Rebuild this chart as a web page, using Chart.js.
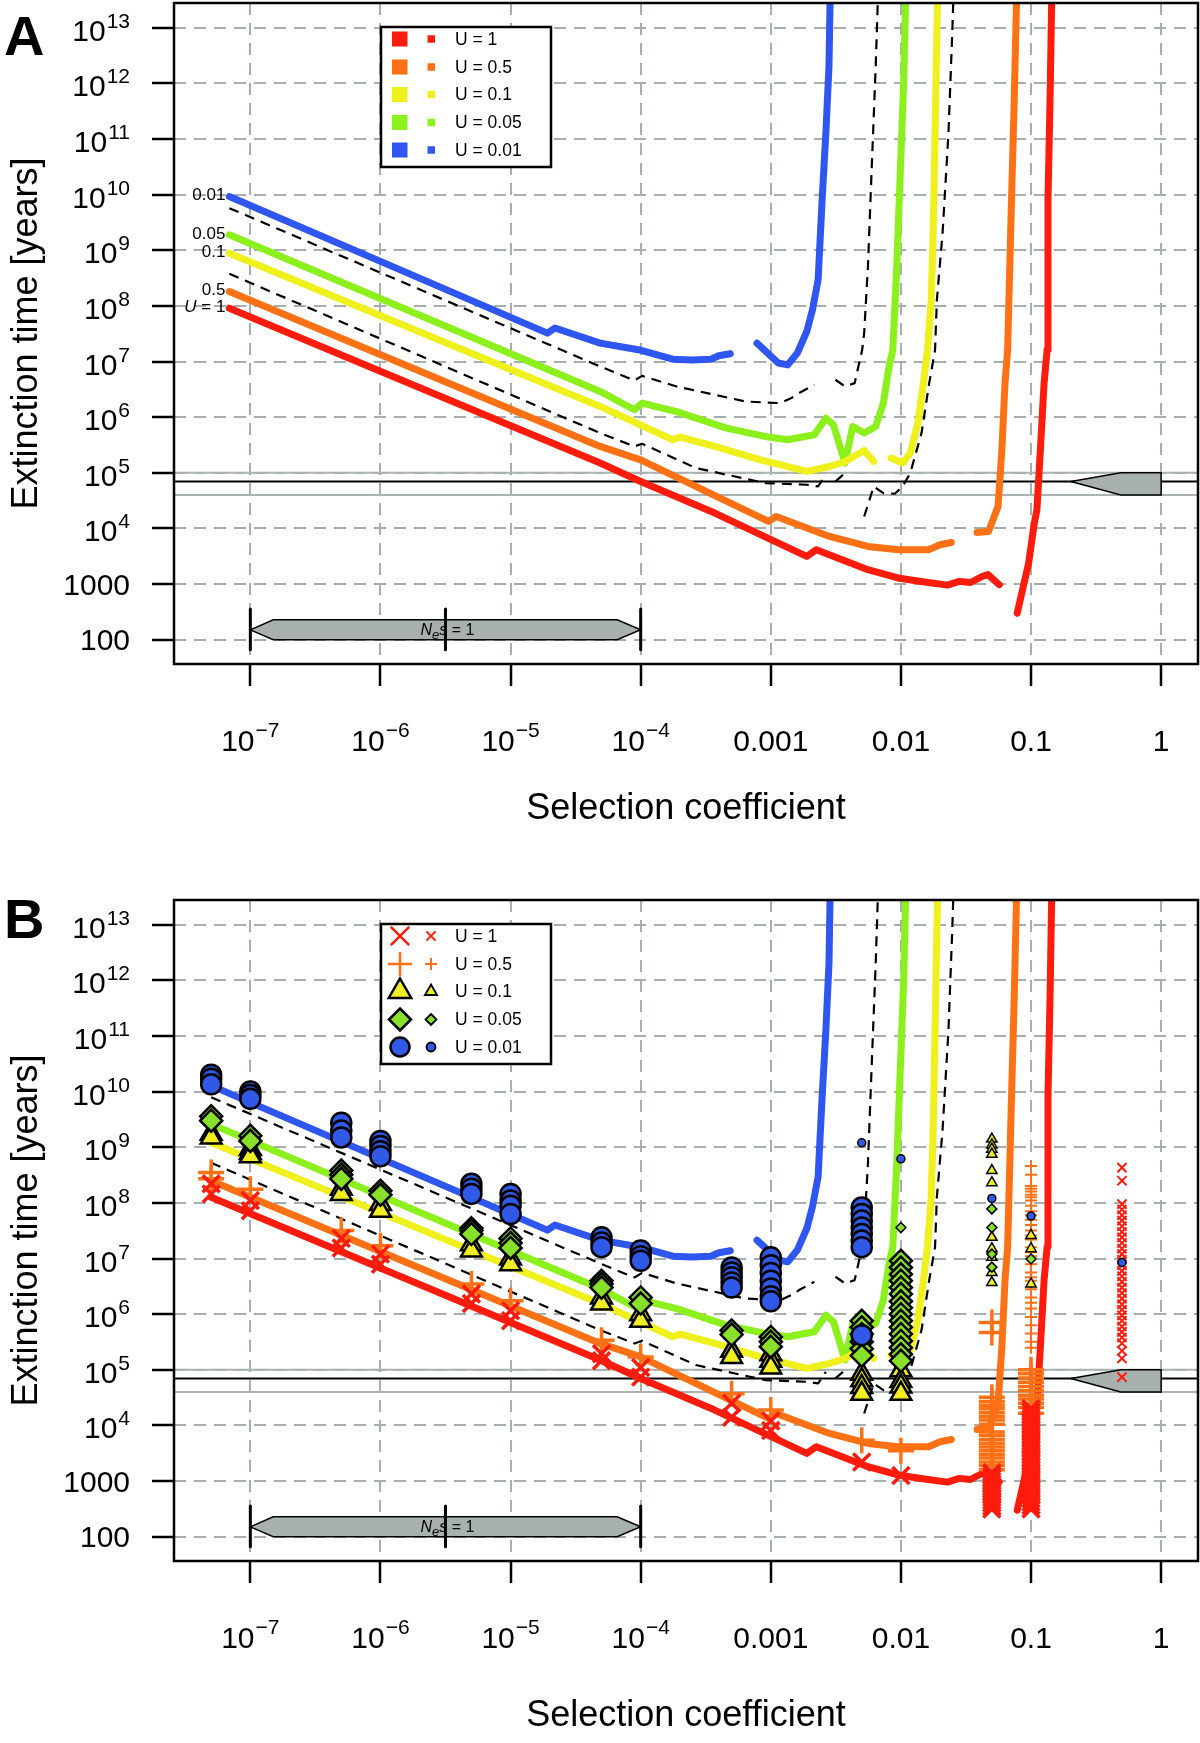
<!DOCTYPE html>
<html>
<head>
<meta charset="utf-8">
<script src="https://cdn.jsdelivr.net/npm/chart.js@4.4.1/dist/chart.umd.min.js"></script>
<style>
  html, body { margin: 0; padding: 0; background: #fff; }
  body { width: 1200px; height: 1743px; position: relative; overflow: hidden; }
  .panel { position: absolute; left: 0; width: 1200px; height: 846px; }
  #panelA { top: 0; }
  #panelB { top: 897px; }
</style>
</head>
<body>
<div class="panel" id="panelA"><canvas id="chartA" width="1200" height="846"></canvas></div>
<div class="panel" id="panelB"><canvas id="chartB" width="1200" height="846"></canvas></div>
<script>
// Axes (log10 on both)
const xMin = 2.59e-8, xMax = 1.92;
const yMin = 36.7, yMax = 2.77e13;
const xTickVals = [1e-7, 1e-6, 1e-5, 1e-4, 1e-3, 1e-2, 1e-1, 1];
const xTickLabels = [['10', '\u22127'], ['10', '\u22126'], ['10', '\u22125'], ['10', '\u22124'],
  ['0.001', ''], ['0.01', ''], ['0.1', ''], ['1', '']];
const yTickVals = [1e2, 1e3, 1e4, 1e5, 1e6, 1e7, 1e8, 1e9, 1e10, 1e11, 1e12, 1e13];
const yTickLabels = [['100', ''], ['1000', ''], ['10', '4'], ['10', '5'], ['10', '6'], ['10', '7'],
  ['10', '8'], ['10', '9'], ['10', '10'], ['10', '11'], ['10', '12'], ['10', '13']];

const uLabels = ['U = 1', 'U = 0.5', 'U = 0.1', 'U = 0.05', 'U = 0.01'];
const uColors = ['#ff1c0c', '#ff7114', '#f0f01c', '#8cf01c', '#2f56f0'];
const markFill = ['#ff1c0c', '#ff7114', '#f0ee22', '#88e02a', '#3159e8'];

// Model curves, extinction time [years] vs selection coefficient
const redS = [5e-8, 4.88e-5, 1e-4, 3.71e-4, 1.89e-3, 2.24e-3, 5.58e-3, 9.48e-3, 1.52e-2, 2.28e-2, 2.8e-2, 3.43e-2,
  4.2e-2, 4.67e-2, 5.7e-2, 6.5e-2, 7.83e-2, 9.59e-2, 0.106, 0.111, 0.118, 0.126, 0.133, 0.135, 0.14, 0.144, 0.146];
const redT = [1.26e8, 1.5e5, 7.0e4, 1.89e4, 3.15e3, 4.15e3, 1.82e3, 1.29e3, 1.09e3, 960, 1.12e3, 1.07e3,
  1.37e3, 1.48e3, 975, null, 300, 2.39e3, 1.25e4, 2.17e4, 2.59e5, 4.09e6, 1.62e7, 8.0e9, 5.0e11, 2.75e13, 1e14];

const orangeS = [5e-8, 4.88e-5, 1e-4, 9.6e-4, 1.1e-3, 2.83e-3, 5.58e-3, 9.48e-3, 1.63e-2, 2.0e-2, 2.44e-2, 3.2e-2,
  3.85e-2, 4.71e-2, 5.58e-2, 5.97e-2, 6.31e-2, 6.61e-2, 7.08e-2, 7.43e-2, 7.73e-2, 7.85e-2];
const orangeT = [2.49e8, 2.98e5, 1.71e5, 1.34e4, 1.64e4, 7.2e3, 4.75e3, 4.15e3, 4.15e3, 5.1e3, 5.6e3, null,
  8.5e3, 8.85e3, 2.49e4, 2.59e5, 4.09e6, 1.62e7, 8.0e9, 5.0e11, 2.75e13, 1e14];

const yellowS = [5e-8, 4.88e-5, 1.76e-4, 2.02e-4, 3.71e-4, 8.36e-4, 1.89e-3, 2.83e-3, 3.72e-3, 5.22e-3, 6.18e-3, 7.3e-3,
  8.39e-3, 1.03e-2, 1.18e-2, 1.35e-2, 1.49e-2, 1.6e-2, 1.71e-2, 1.77e-2, 1.83e-2, 1.89e-2, 1.93e-2];
const yellowT = [1.21e9, 1.56e6, 3.93e5, 4.39e5, 2.98e5, 1.71e5, 1.06e5, 1.3e5, 1.6e5, 2.52e5, 1.6e5, null,
  1.84e5, 1.5e5, 2.26e5, 7.83e5, 4.09e6, 1.62e7, 1.28e8, 2.03e9, 1.27e11, 7.9e12, 1e14];

const greenS = [5e-8, 4.88e-5, 8.95e-5, 1.026e-4, 1.89e-4, 4.56e-4, 9.6e-4, 1.35e-3, 2.16e-3, 2.65e-3, 3.03e-3,
  3.72e-3, 4.26e-3, 5.22e-3, 6.4e-3, 7.33e-3, 8.11e-3, 8.67e-3, 9.29e-3, 9.93e-3, 1.05e-2, 1.1e-2];
const greenT = [2.6e9, 2.9e6, 1.36e6, 1.79e6, 1.26e6, 6.37e5, 4.39e5, 3.93e5, 4.83e5, 9.6e5, 7.3e5,
  1.5e5, 6.8e5, 5.2e5, 6.8e5, 1.79e6, 8.15e6, 1.62e7, 5.1e8, 3.18e10, 1e12, 1e14];

const blueS = [5e-8, 1e-6, 1.92e-5, 2.19e-5, 4.88e-5, 9.6e-5, 1.76e-4, 2.47e-4, 3.47e-4, 3.98e-4, 4.88e-4, 6.3e-4,
  7.83e-4, 1.14e-3, 1.35e-3, 1.6e-3, 1.89e-3, 2.09e-3, 2.31e-3, 2.48e-3, 2.65e-3, 2.8e-3, 2.88e-3];
const blueT = [1.28e10, 6.3e8, 3.24e7, 4.0e7, 2.14e7, 1.63e7, 1.1e7, 1.07e7, 1.1e7, 1.27e7, 1.38e7, null,
  2.14e7, 9.4e6, 8.7e6, 1.42e7, 3.46e7, 8.5e7, 2.94e8, 8.0e9, 1.27e11, 2.0e12, 1e14];

const dashLowS = [5e-8, 4.88e-5, 8.95e-5, 1.026e-4, 2.65e-4, 9.04e-4, 1.89e-3, 2.31e-3, 2.65e-3, 2.9e-3, 3.14e-3,
  3.72e-3, 4.5e-3, 5.22e-3, 6.18e-3, 7.33e-3, 8.97e-3, 1.03e-2, 1.18e-2, 1.44e-2, 1.65e-2, 1.83e-2, 1.89e-2,
  2.09e-2, 2.32e-2, 2.48e-2, 2.57e-2];
const dashLowT = [5.24e8, 5.18e5, 2.98e5, 3.33e5, 1.22e5, 6.55e4, 6.1e4, 5.69e4, 9.2e4, null, 7.0e4,
  9.9e4, null, 1.64e4, 5.69e4, 4.33e4, 4.21e4, 5.69e4, 9.9e4, 5.18e5, 4.09e6, 1.62e7, 1.28e8,
  2.03e9, 1.27e11, 7.9e12, 1e14];

const dashHighS = [5e-8, 4.88e-5, 8.95e-5, 1.026e-4, 1.89e-4, 6.38e-4, 1.18e-3, 1.44e-3, 1.65e-3, 2.16e-3, 2.6e-3,
  3.14e-3, 3.72e-3, 4.41e-3, 5.04e-3, 5.22e-3, 5.58e-3, 5.97e-3, 6.4e-3, 6.76e-3];
const dashHighT = [7.9e9, 8.15e6, 4.57e6, 5.53e6, 3.56e6, 1.91e6, 1.79e6, 2.2e6, 2.71e6, 3.82e6, null,
  4.7e6, 3.56e6, 4.09e6, 1.62e7, 3.24e7, 5.1e8, 3.16e10, 2.0e12, 1e14];

// Panel A curves start a little further right
const startAS = 6.9e-8;
const startAT = [9.1e7, 1.81e8, 8.85e8, 1.89e9, 9.2e9];   // red, orange, yellow, green, blue
const dashStartAT = [3.77e8, 5.7e9];                      // lower, upper dashed

// Reference band and annotations
const refLevels = [1e5, 7e4, 4e4];
const refColors = ['#aab2b2', '#000000', '#aab2b2'];
const rightArrowS = [0.2025, 0.489, 1, 1, 0.489, 0.2025];
const rightArrowT = [7e4, 1e5, 1e5, 4e4, 4e4, 7e4];
const nesArrowS = [1e-7, 1.5e-7, 6.6e-5, 1e-4, 6.6e-5, 1.5e-7, 1e-7];
const nesArrowT = [151, 229, 229, 151, 100, 100, 151];
const nesTickS = [1e-7, 3.16e-6, 1e-4];
const nesTickT = [66, 357];
const nesTextS = 3.16e-6, nesTextT = 151;

// Simulation results (panel B), grouped by selection coefficient
const sGrid = [5e-8, 1e-7, 5e-7, 1e-6, 5e-6, 1e-5, 5e-5, 1e-4, 5e-4, 1e-3, 5e-3, 1e-2, 5e-2, 1e-1, 5e-1];
const bigBlueT = [
  [2.0e10, 1.7e10, 1.35e10], [1.0e10, 8.7e9, 7.4e9], [2.75e9, 2.0e9, 1.5e9], [1.3e9, 1.05e9, 8.5e8, 6.9e8],
  [2.2e8, 1.8e8, 1.45e8], [1.45e8, 1.1e8, 8.9e7, 6.3e7], [2.4e7, 1.95e7, 1.6e7], [1.4e7, 1.1e7, 9.1e6],
  [6.9e6, 5.6e6, 4.6e6, 3.7e6, 3.0e6], [1.05e7, 7.6e6, 5.5e6, 4.0e6, 2.9e6, 2.1e6, 1.7e6],
  [8.3e7, 6.3e7, 4.8e7, 3.6e7, 2.75e7, 2.1e7, 1.6e7, 4.2e5], [], [], [], []];
const smallBlueT = [[], [], [], [], [], [], [], [], [], [], [1.2e9], [6.2e8], [1.2e8], [5.8e7], [8.5e6]];
const bigGreenT = [
  [3.6e9, 3.0e9], [1.6e9, 1.3e9], [3.8e8, 3.2e8, 2.7e8], [1.65e8, 1.4e8], [3.5e7, 3.2e7, 2.75e7],
  [2.3e7, 1.9e7, 1.55e7], [4.0e6, 3.5e6, 3.0e6], [2.0e6, 1.55e6], [5.1e5, 4.3e5], [3.9e5, 3.2e5, 2.6e5],
  [7.6e5, 5.8e5, 4.4e5, 3.2e5, 2.4e5, 1.8e5],
  [9.1e6, 6.9e6, 5.2e6, 4.0e6, 3.0e6, 2.3e6, 1.7e6, 1.3e6, 1.0e6, 7.6e5, 5.8e5, 4.4e5, 3.3e5, 2.5e5, 1.9e5, 1.45e5],
  [], [], []];
const smallGreenT = [[], [], [], [], [], [], [], [], [], [], [], [3.6e7], [7.8e7, 3.6e7, 1.2e7, 7.0e6], [9.8e6], []];
const bigYellowT = [
  [1.75e9, 1.5e9], [9.3e8, 7.9e8, 6.9e8], [1.8e8, 1.45e8], [9.5e7, 7.2e7], [1.8e7, 1.4e7], [1.0e7, 7.9e6],
  [2.0e6, 1.55e6], [1.0e6, 7.6e5], [2.2e5, 1.7e5], [1.9e5, 1.45e5, 1.1e5], [8.5e4, 6.5e4, 4.9e4, 3.7e4],
  [9.8e4, 6.3e4, 5.0e4, 3.7e4], [], [], []];
const smallYellowT = [[], [], [], [], [], [], [], [], [], [], [], [],
  [1.4e9, 1.1e9, 9.2e8, 7.5e8, 3.8e8, 2.3e8, 2.4e7, 1.5e7, 1.05e7, 5.6e6, 3.7e6], [2.6e7, 1.5e7, 3.5e6], []];
const bigOrangeT = [
  [3.5e8, 2.7e8], [1.75e8], [3.2e7], [1.7e7], [3.5e6], [1.75e6], [3.4e5], [1.7e5], [3.7e4], [1.9e4], [5.4e3], [3.5e3],
  [7.1e5, 4.7e5, 3.2e4, 2.7e4, 2.3e4, 2.0e4, 1.7e4, 1.45e4, 1.25e4, 1.05e4, 7.6e3, 6.6e3, 5.6e3, 4.8e3, 4.1e3,
   3.5e3, 3.0e3, 2.6e3, 2.2e3, 1.9e3, 1.6e3],
  [1.0e5, 8.5e4, 7.1e4, 6.0e4, 5.0e4, 4.2e4, 3.5e4, 3.0e4, 2.5e4, 2.1e4, 1.66e4], []];
const smallOrangeT = [[], [], [], [], [], [], [], [], [], [], [], [], [],
  [4.6e8, 3.2e8, 2.0e8, 1.8e8, 1.6e8, 1.4e8, 1.26e8, 1.1e8, 8.9e7, 7.1e7, 6.0e7, 5.0e7, 4.0e7, 3.2e7, 2.6e7,
   2.2e7, 1.6e7, 1.3e7, 1.1e7, 7.9e6, 5.6e6, 4.6e6, 4.0e6, 2.8e6, 2.0e6, 1.6e6, 1.26e6, 8.9e5, 6.3e5, 4.5e5,
   3.2e5, 2.5e5], []];
const bigRedT = [
  [2.2e8, 1.45e8], [1.1e8, 7.2e7], [2.3e7, 1.55e7], [1.2e7, 7.9e6], [2.3e6, 1.55e6], [1.15e6, 7.6e5],
  [1.95e5, 1.45e5], [1.1e5, 7.4e4], [2.5e4, 1.4e4], [1.2e4, 8.1e3], [2.2e3], [1.26e3],
  [1.41e3, 1.26e3, 1.12e3, 1.0e3, 890, 790, 710, 630, 560, 500, 450, 400, 355, 316],
  [2.0e4, 1.74e4, 1.51e4, 1.32e4, 1.15e4, 1.0e4, 8.7e3, 7.6e3, 6.6e3, 5.75e3, 5.0e3, 4.4e3, 3.8e3, 3.3e3,
   2.9e3, 2.5e3, 2.2e3, 1.9e3, 1.66e3, 1.45e3, 1.26e3, 1.1e3, 955, 830, 725, 630, 550, 480, 417, 363, 316], []];
const smallRedT = [[], [], [], [], [], [], [], [], [], [], [], [], [], [],
  [4.3e8, 2.5e8, 9.5e7, 7.6e7, 6.0e7, 4.8e7, 3.8e7, 3.0e7, 2.4e7, 1.9e7, 1.5e7, 1.2e7, 9.5e6, 7.6e6, 6.0e6,
   4.8e6, 3.8e6, 3.0e6, 2.4e6, 1.9e6, 1.5e6, 1.2e6, 9.5e5, 7.6e5, 6.0e5, 4.8e5, 3.8e5, 3.0e5, 2.2e5, 1.6e5, 7.4e4]];

const FONT = '"Liberation Sans", Arial, Helvetica, sans-serif';
const gridGrey = '#a6aeae';

// Helpers
function lineSet(data, color, width, dash, order) {
  return {
    type: 'line', data, borderColor: color, borderWidth: width, borderDash: dash,
    borderCapStyle: dash.length ? 'butt' : 'round', borderJoinStyle: 'round',
    pointRadius: 0, spanGaps: false, fill: false, tension: 0, order, clip: 0
  };
}

function polygonSet(sArr, tArr) {
  return {
    type: 'line', data: sArr.map((s, i) => ({ x: s, y: tArr[i] })),
    borderColor: '#000', borderWidth: 1.5, backgroundColor: '#a9b1af', fill: 'shape',
    pointRadius: 0, tension: 0, order: 25, clip: 0
  };
}

function pointSet(groups, style, radius, fill, stroke, lw, order) {
  const data = [];
  groups.forEach((g, i) => g.forEach(t => data.push({ x: sGrid[i], y: t })));
  return {
    type: 'scatter', data, showLine: false, pointStyle: style, pointRadius: radius,
    pointBackgroundColor: fill, pointBorderColor: stroke, pointBorderWidth: lw, order
  };
}

function buildDatasets(panel) {
  const ds = [];
  refLevels.forEach((lv, i) => ds.push(lineSet([{ x: xMin, y: lv }, { x: xMax, y: lv }], refColors[i], 2, [], 30)));
  ds.push(polygonSet(rightArrowS, rightArrowT));
  ds.push(polygonSet(nesArrowS, nesArrowT));
  nesTickS.forEach(s => ds.push(lineSet([{ x: s, y: nesTickT[0] }, { x: s, y: nesTickT[1] }], '#000', 3, [], 24)));

  const curves = [
    [redS, redT, startAT[0], uColors[0], 7, []],
    [orangeS, orangeT, startAT[1], uColors[1], 7, []],
    [yellowS, yellowT, startAT[2], uColors[2], 7, []],
    [greenS, greenT, startAT[3], uColors[3], 7, []],
    [blueS, blueT, startAT[4], uColors[4], 7, []],
    [dashLowS, dashLowT, dashStartAT[0], '#000', 2.2, [10, 7]],
    [dashHighS, dashHighT, dashStartAT[1], '#000', 2.2, [10, 7]]
  ];
  curves.forEach(([s, t, a, color, w, dash]) => {
    const pts = s.map((v, i) => ({ x: v, y: t[i] }));
    if (panel === 'A') pts[0] = { x: startAS, y: a };
    ds.push(lineSet(pts, color, w, dash, 20));
  });

  if (panel === 'B') {
    ds.push(pointSet(smallBlueT, 'circle', 4, markFill[4], '#000', 1.5, 0));
    ds.push(pointSet(bigBlueT, 'circle', 10, markFill[4], '#000', 2.5, 1));
    ds.push(pointSet(smallGreenT, 'rectRot', 5, markFill[3], '#000', 1.5, 2));
    ds.push(pointSet(bigGreenT, 'rectRot', 11, markFill[3], '#000', 2.5, 3));
    ds.push(pointSet(smallYellowT, 'triangle', 6, markFill[2], '#000', 1.5, 4));
    ds.push(pointSet(bigYellowT, 'triangle', 12, markFill[2], '#000', 2.5, 5));
    ds.push(pointSet(smallRedT, 'crossRot', 6.5, markFill[0], markFill[0], 2, 6));
    ds.push(pointSet(bigRedT, 'crossRot', 12, markFill[0], markFill[0], 3.5, 7));
    ds.push(pointSet(smallOrangeT, 'cross', 6, markFill[1], markFill[1], 2, 8));
    ds.push(pointSet(bigOrangeT, 'cross', 13, markFill[1], markFill[1], 3.5, 9));
  }
  return ds;
}

// Marker drawing for the legend
function marker(ctx, style, x, y, r, fill, stroke, lw) {
  ctx.beginPath();
  ctx.lineWidth = lw;
  ctx.strokeStyle = stroke;
  ctx.fillStyle = fill;
  if (style === 'circle') {
    ctx.arc(x, y, r, 0, Math.PI * 2);
  } else if (style === 'triangle') {
    ctx.moveTo(x, y - r);
    ctx.lineTo(x + r * 0.866, y + r * 0.5);
    ctx.lineTo(x - r * 0.866, y + r * 0.5);
    ctx.closePath();
  } else if (style === 'rectRot') {
    ctx.moveTo(x, y - r); ctx.lineTo(x + r, y); ctx.lineTo(x, y + r); ctx.lineTo(x - r, y);
    ctx.closePath();
  } else if (style === 'cross') {
    ctx.moveTo(x - r, y); ctx.lineTo(x + r, y); ctx.moveTo(x, y - r); ctx.lineTo(x, y + r);
    ctx.stroke();
    return;
  } else if (style === 'crossRot') {
    const d = r * Math.SQRT1_2;
    ctx.moveTo(x - d, y - d); ctx.lineTo(x + d, y + d); ctx.moveTo(x + d, y - d); ctx.lineTo(x - d, y + d);
    ctx.stroke();
    return;
  }
  ctx.fill();
  ctx.stroke();
}

function drawLegend(ctx, kind) {
  const bx = 381, by = 27, bw = 170, bh = 140;
  const rows = [39, 67, 94.5, 122.5, 150];
  ctx.fillStyle = '#fff';
  ctx.fillRect(bx, by, bw, bh);
  ctx.strokeStyle = '#000';
  ctx.lineWidth = 2.5;
  ctx.strokeRect(bx, by, bw, bh);
  const bigStyle = ['crossRot', 'cross', 'triangle', 'rectRot', 'circle'];
  const bigR = [13, 12, 13, 11, 9.5];
  const smallR = [6.5, 6, 7, 5.5, 4.5];
  rows.forEach((y, i) => {
    if (kind === 'squares') {
      ctx.fillStyle = uColors[i];
      ctx.fillRect(392, y - 7.5, 15.5, 15);
      ctx.fillRect(427.5, y - 3.75, 7.5, 7.5);
    } else {
      const line = i < 2;
      const st = line ? markFill[i] : '#000';
      marker(ctx, bigStyle[i], 400, y, bigR[i], markFill[i], st, 2.5);
      marker(ctx, bigStyle[i], 431, y, smallR[i], markFill[i], st, line ? 2 : 1.8);
    }
    ctx.fillStyle = '#000';
    ctx.font = `17.5px ${FONT}`;
    ctx.textAlign = 'left';
    ctx.textBaseline = 'middle';
    ctx.fillText(uLabels[i], 455, y + 1);
  });
}

function drawPieces(ctx, pieces, xStart, baseline) {
  let x = xStart;
  pieces.forEach(p => {
    ctx.font = p.font;
    ctx.fillText(p.t, x, baseline + (p.dy || 0));
    x += ctx.measureText(p.t).width;
  });
}
function piecesWidth(ctx, pieces) {
  return pieces.reduce((w, p) => { ctx.font = p.font; return w + ctx.measureText(p.t).width; }, 0);
}

const panelDecor = {
  id: 'panelDecor',
  afterDatasetsDraw(chart, args, o) {
    const ctx = chart.ctx, xs = chart.scales.x, ys = chart.scales.y;
    ctx.save();
    ctx.fillStyle = '#000';
    ctx.textAlign = 'left';
    ctx.textBaseline = 'alphabetic';
    // Ne s = 1 label inside the grey arrow
    const nes = [
      { t: 'N', font: `italic 16px ${FONT}` },
      { t: 'e', font: `italic 13px ${FONT}`, dy: 4 },
      { t: 's', font: `italic 16px ${FONT}` },
      { t: ' = 1', font: `16px ${FONT}` }
    ];
    const nw = piecesWidth(ctx, nes);
    drawPieces(ctx, nes, xs.getPixelForValue(nesTextS) - nw / 2 + 2, ys.getPixelForValue(nesTextT) + 5);

    if (o.curveLabels) {
      const labs = [
        [[{ t: 'U', font: `italic 17px ${FONT}` }, { t: ' = 1', font: `17px ${FONT}` }], startAT[0]],
        [[{ t: '0.5', font: `17px ${FONT}` }], startAT[1]],
        [[{ t: '0.1', font: `17px ${FONT}` }], startAT[2]],
        [[{ t: '0.05', font: `17px ${FONT}` }], startAT[3]],
        [[{ t: '0.01', font: `17px ${FONT}` }], startAT[4]]
      ];
      const xr = xs.getPixelForValue(startAS) - 4;
      ctx.textBaseline = 'middle';
      labs.forEach(([pieces, t]) => {
        const w = piecesWidth(ctx, pieces);
        drawPieces(ctx, pieces, xr - w, ys.getPixelForValue(t) - 1);
      });
    }
    drawLegend(ctx, o.legend);
    ctx.restore();
  },
  afterDraw(chart, args, o) {
    const ctx = chart.ctx, xs = chart.scales.x, ys = chart.scales.y, a = chart.chartArea;
    ctx.save();
    // frame
    ctx.strokeStyle = '#000';
    ctx.lineWidth = 2.5;
    ctx.strokeRect(a.left, a.top, a.right - a.left, a.bottom - a.top);

    ctx.fillStyle = '#000';
    ctx.textBaseline = 'alphabetic';
    // y tick labels
    const yr = a.left - 44;
    yTickVals.forEach((v, i) => {
      const y = ys.getPixelForValue(v);
      const [b, e] = yTickLabels[i];
      ctx.textAlign = 'right';
      if (!e) {
        ctx.font = `30px ${FONT}`;
        ctx.fillText(b, yr, y + 10.5);
      } else {
        ctx.font = `21px ${FONT}`;
        const ew = ctx.measureText(e).width;
        ctx.fillText(e, yr, y);
        ctx.font = `30px ${FONT}`;
        ctx.fillText(b, yr - ew - 1, y + 13);
      }
    });
    // x tick labels
    const xb = a.bottom + 86.5;
    xTickVals.forEach((v, i) => {
      const x = xs.getPixelForValue(v);
      const [b, e] = xTickLabels[i];
      ctx.font = `30px ${FONT}`;
      const wb = ctx.measureText(b).width;
      ctx.font = `21px ${FONT}`;
      const we = e ? ctx.measureText(e).width + 1 : 0;
      const x0 = x - (wb + we) / 2;
      ctx.textAlign = 'left';
      ctx.font = `30px ${FONT}`;
      ctx.fillText(b, x0, xb);
      if (e) {
        ctx.font = `21px ${FONT}`;
        ctx.fillText(e, x0 + wb + 1, xb - 14);
      }
    });
    // axis titles
    ctx.font = `36px ${FONT}`;
    ctx.textAlign = 'center';
    ctx.fillText('Selection coefficient', (a.left + a.right) / 2, o.titleY);
    ctx.save();
    ctx.translate(36.5, (a.top + a.bottom) / 2);
    ctx.rotate(-Math.PI / 2);
    ctx.fillText('Extinction time [years]', 0, 0);
    ctx.restore();
    // panel letter
    ctx.font = `bold 56px ${FONT}`;
    ctx.textAlign = 'left';
    ctx.fillText(o.letter, 4, o.letterY);
    ctx.restore();
  }
};

function makeChart(canvasId, panel, decor) {
  const axisCommon = {
    type: 'logarithmic',
    bounds: 'data',
    ticks: { display: false },
    grid: { color: gridGrey, lineWidth: 2, drawTicks: true, tickLength: 22, tickColor: '#000', tickWidth: 2.5 },
    border: { display: false, dash: [12, 8] }
  };
  return new Chart(document.getElementById(canvasId), {
    type: 'scatter',
    data: { datasets: buildDatasets(panel) },
    plugins: [panelDecor],
    options: {
      responsive: false,
      animation: false,
      devicePixelRatio: 1,
      events: [],
      layout: { autoPadding: false, padding: { top: 3, right: 2, left: 0, bottom: 0 } },
      plugins: { legend: { display: false }, tooltip: { enabled: false }, panelDecor: decor },
      scales: {
        x: Object.assign({}, axisCommon, {
          position: 'bottom', min: xMin, max: xMax,
          afterBuildTicks: s => { s.ticks = xTickVals.map(v => ({ value: v })); },
          afterFit: s => { s.height = 182; }
        }),
        y: Object.assign({}, axisCommon, {
          position: 'left', min: yMin, max: yMax,
          afterBuildTicks: s => { s.ticks = yTickVals.map(v => ({ value: v })); },
          afterFit: s => { s.width = 174; }
        })
      }
    }
  });
}

makeChart('chartA', 'A', { letter: 'A', letterY: 55, titleY: 819, legend: 'squares', curveLabels: true });
makeChart('chartB', 'B', { letter: 'B', letterY: 41, titleY: 829, legend: 'markers', curveLabels: false });
</script>
</body>
</html>
